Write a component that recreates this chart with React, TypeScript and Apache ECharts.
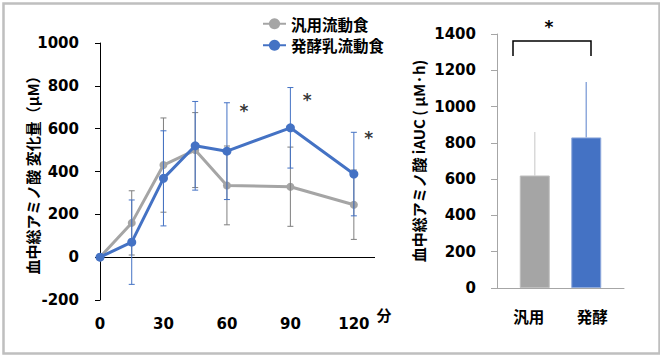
import React, { useEffect, useRef } from "react";
import * as echarts from "echarts";

// ---- data (left: time course) ----
const times = [0, 15, 30, 45, 60, 90, 120];
const generalMean = [0, 160, 430, 500, 335, 329, 245];
const generalSD = [0, 150, 220, 175, 184, 185, 162];
const fermentedMean = [0, 70, 368, 520, 495, 604, 388];
const fermentedSD = [0, 197, 222, 207, 226, 188, 195];
const seriesNames = ["汎用流動食", "発酵乳流動食"];
const leftYTicks = { min: -200, max: 1000, interval: 200 };
const xTicks = { min: 0, max: 130, interval: 30 };
// significance marks (data coordinates)
const sigX = [68, 98, 127];
const sigY = [682, 734, 556];

// ---- data (right: iAUC) ----
const aucCategories = ["汎用", "発酵"];
const aucMean = [620, 830];
const aucSD = [240, 305];
const rightYTicks = { min: 0, max: 1400, interval: 200 };

const GRAY = "#a5a5a5";
const BLUE = "#4472c4";
const FONT = "'DejaVu Sans', 'Noto Sans CJK JP', sans-serif";
const FONT_CJK = "'Noto Sans CJK JP', 'DejaVu Sans', sans-serif";
const BAR_W = 30;
const BAR_GAP = -0.6;

function errorBarSeries(means: number[], sds: number[], color: string, z: number) {
  const data = times
    .map((t, i) => [t, means[i] - sds[i], means[i] + sds[i]])
    .filter((d, i) => sds[i] > 0);
  return {
    type: "custom",
    xAxisIndex: 0,
    yAxisIndex: 0,
    z,
    silent: true,
    data,
    renderItem: (params: any, api: any) => {
      const x = api.value(0);
      const lo = api.coord([x, api.value(1)]);
      const hi = api.coord([x, api.value(2)]);
      const cap = 3;
      const style = { stroke: color, lineWidth: 1 };
      return {
        type: "group",
        children: [
          { type: "line", shape: { x1: lo[0], y1: lo[1], x2: hi[0], y2: hi[1] }, style },
          { type: "line", shape: { x1: lo[0] - cap, y1: lo[1], x2: lo[0] + cap, y2: lo[1] }, style },
          { type: "line", shape: { x1: hi[0] - cap, y1: hi[1], x2: hi[0] + cap, y2: hi[1] }, style },
        ],
      };
    },
  };
}

const tickLabel = {
  fontSize: 15,
  fontWeight: "bold",
  fontFamily: FONT,
  color: "#000",
};

export default function App() {
  const ref = useRef<HTMLDivElement>(null);
  useEffect(() => {
    if (!ref.current) return;
    const chart = echarts.init(ref.current, null, { renderer: "svg" });
    const slotOffset = (BAR_W * (1 + BAR_GAP)) / 2;
    const option: any = {
      animation: false,
      backgroundColor: "#ffffff",
      textStyle: { fontFamily: FONT, fontWeight: "bold", color: "#000" },
      grid: [
        { left: 100, top: 43, width: 275, height: 257 },
        { left: 497, top: 34, width: 127, height: 254 },
      ],
      legend: {
        left: 262,
        top: 16,
        padding: 0,
        orient: "vertical",
        itemWidth: 23,
        itemHeight: 14,
        itemGap: 6,
        data: seriesNames,
        textStyle: { fontFamily: FONT_CJK, fontWeight: "bold", fontSize: 15.5, color: "#000" },
      },
      xAxis: [
        {
          type: "value",
          gridIndex: 0,
          min: xTicks.min,
          max: xTicks.max,
          interval: xTicks.interval,
          axisLine: { show: false },
          axisTick: { show: false },
          splitLine: { show: false },
          axisLabel: {
            ...tickLabel,
            margin: 16,
            formatter: (v: number) => (v % xTicks.interval === 0 ? String(v) : ""),
          },
        },
        {
          type: "category",
          gridIndex: 1,
          data: aucCategories,
          axisLine: { show: true, lineStyle: { color: "#a6a6a6", width: 1 } },
          axisTick: { show: false },
          axisLabel: {
            margin: 20,
            fontSize: 15.5,
            fontWeight: "bold",
            fontFamily: FONT_CJK,
            color: "#000",
          },
        },
      ],
      yAxis: [
        {
          type: "value",
          gridIndex: 0,
          min: leftYTicks.min,
          max: leftYTicks.max,
          interval: leftYTicks.interval,
          axisLine: { show: true, onZero: false, lineStyle: { color: "#000", width: 1 } },
          axisTick: { show: true, inside: false, length: 5, lineStyle: { color: "#000" } },
          splitLine: { show: false },
          axisLabel: { ...tickLabel, margin: 21, formatter: (v: number) => String(v) },
          name: "血中総アミノ酸 変化量（μM）",
          nameLocation: "middle",
          nameRotate: 90,
          nameGap: 60,
          nameMoveOverlap: false,
          nameTextStyle: { fontFamily: FONT_CJK, fontWeight: "bold", fontSize: 15, color: "#000" },
        },
        {
          type: "value",
          gridIndex: 1,
          min: rightYTicks.min,
          max: rightYTicks.max,
          interval: rightYTicks.interval,
          axisLine: { show: true, lineStyle: { color: "#a6a6a6", width: 1 } },
          axisTick: { show: true, inside: false, length: 6, lineStyle: { color: "#a6a6a6" } },
          splitLine: { show: false },
          axisLabel: { ...tickLabel, margin: 21, formatter: (v: number) => String(v) },
          name: "血中総アミノ酸 iAUC ( μM·h)",
          nameLocation: "middle",
          nameRotate: 90,
          nameGap: 71,
          nameMoveOverlap: false,
          nameTextStyle: { fontFamily: FONT_CJK, fontWeight: "bold", fontSize: 15, color: "#000" },
        },
      ],
      series: [
        {
          name: seriesNames[0],
          type: "line",
          xAxisIndex: 0,
          yAxisIndex: 0,
          data: times.map((t, i) => [t, generalMean[i]]),
          symbol: "circle",
          symbolSize: 8,
          z: 3,
          itemStyle: { color: GRAY },
          lineStyle: { color: GRAY, width: 3 },
          markLine: {
            silent: true,
            symbol: "none",
            label: { show: false },
            lineStyle: { color: "#000", width: 1, type: "solid" },
            data: [{ yAxis: 0 }],
          },
        },
        errorBarSeries(generalMean, generalSD, "#7f7f7f", 4),
        {
          name: seriesNames[1],
          type: "line",
          xAxisIndex: 0,
          yAxisIndex: 0,
          data: times.map((t, i) => [t, fermentedMean[i]]),
          symbol: "circle",
          symbolSize: 9,
          z: 5,
          itemStyle: { color: BLUE },
          lineStyle: { color: BLUE, width: 3 },
        },
        errorBarSeries(fermentedMean, fermentedSD, BLUE, 6),
        {
          type: "scatter",
          xAxisIndex: 0,
          yAxisIndex: 0,
          symbolSize: 0,
          silent: true,
          z: 10,
          data: sigX.map((x, i) => [x, sigY[i]]),
          label: {
            show: true,
            position: "inside",
            formatter: "*",
            fontSize: 17,
            fontWeight: "bold",
            fontFamily: FONT,
            color: "#000",
            offset: [0, 4],
          },
          labelLayout: { hideOverlap: false, moveOverlap: false },
        },
        // right chart: bars (blue occupies left slot, gray right slot)
        {
          type: "bar",
          xAxisIndex: 1,
          yAxisIndex: 1,
          barWidth: BAR_W,
          barGap: `${BAR_GAP * 100}%`,
          data: ["-", aucMean[1]],
          itemStyle: { color: BLUE, borderColor: "#8faadc", borderWidth: 1 },
        },
        {
          type: "bar",
          xAxisIndex: 1,
          yAxisIndex: 1,
          barWidth: BAR_W,
          barGap: `${BAR_GAP * 100}%`,
          data: [aucMean[0], "-"],
          itemStyle: { color: GRAY, borderColor: "#bfbfbf", borderWidth: 1 },
        },
        {
          type: "custom",
          xAxisIndex: 1,
          yAxisIndex: 1,
          silent: true,
          z: 1,
          data: aucCategories.map((c, i) => [i, aucMean[i], aucMean[i] + aucSD[i]]),
          renderItem: (params: any, api: any) => {
            const idx = api.value(0);
            const lo = api.coord([idx, api.value(1)]);
            const hi = api.coord([idx, api.value(2)]);
            const off = idx === 0 ? slotOffset : -slotOffset;
            const color = idx === 0 ? "#d9d9d9" : "#8faadc";
            return {
              type: "line",
              shape: { x1: lo[0] + off, y1: lo[1], x2: hi[0] + off, y2: hi[1] },
              style: { stroke: color, lineWidth: 1.5 },
            };
          },
        },
      ],
      graphic: [
        {
          type: "rect",
          left: 1,
          top: 1,
          shape: { x: 0, y: 0, width: 656, height: 350 },
          style: { fill: "none", stroke: "#bfbfbf", lineWidth: 2.5 },
          silent: true,
        },
        {
          type: "text",
          x: 384,
          y: 314,
          style: {
            text: "分",
            fontSize: 15,
            fontWeight: "bold",
            fontFamily: FONT_CJK,
            fill: "#000",
            align: "center",
            verticalAlign: "middle",
          },
          silent: true,
        },
        {
          type: "polyline",
          shape: { points: [[513, 56], [513, 41], [591, 41], [591, 56]] },
          style: { fill: "none", stroke: "#000", lineWidth: 1.5 },
          silent: true,
        },
        {
          type: "text",
          x: 549,
          y: 27,
          style: {
            text: "*",
            fontSize: 17,
            fontWeight: "bold",
            fontFamily: FONT,
            fill: "#000",
            align: "center",
            verticalAlign: "middle",
          },
          silent: true,
        },
      ],
    };
    chart.setOption(option);
    return () => chart.dispose();
  }, []);
  return (
    <div
      ref={ref}
      style={{ position: "absolute", left: 0, top: 0, width: 660, height: 355 }}
    />
  );
}
